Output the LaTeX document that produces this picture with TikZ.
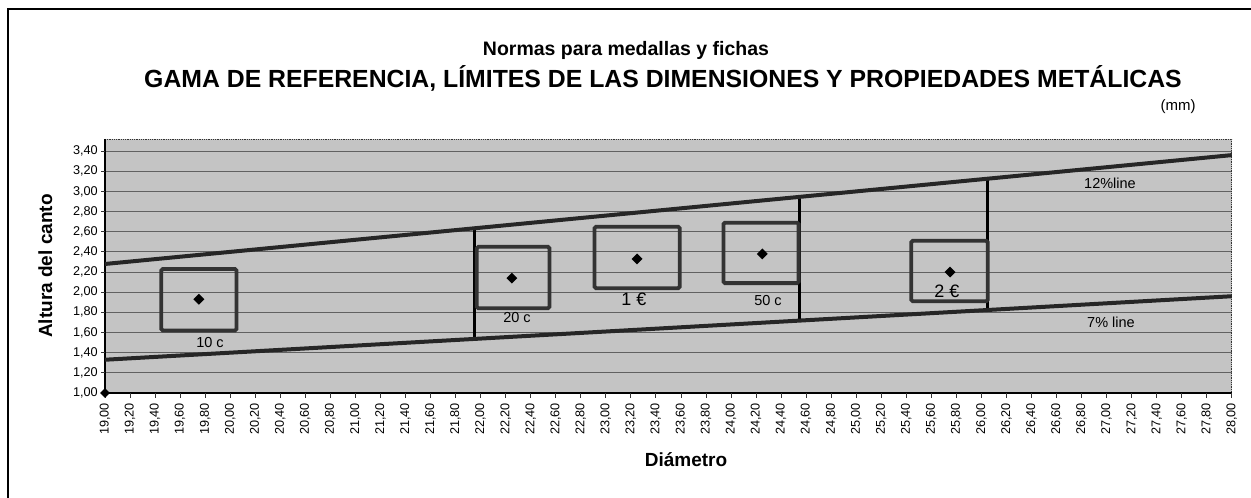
\documentclass[tikz,border=0pt]{standalone}
\usepackage{fontspec}
\setmainfont{Liberation Sans}
\usetikzlibrary{shapes.geometric}
\pgfkeys{/pgf/number format/.cd,fixed,fixed zerofill,precision=2,use comma,assume math mode=true}
\begin{document}
\begin{tikzpicture}[x=1pt,y=-1pt,
  bgfill/.style={fill=black!23},
  gridln/.style={draw=black!62,line width=0.8pt},
  frameln/.style={draw=black!80,line width=0.8pt,densely dotted},
  axisln/.style={draw=black,line width=1.2pt},
  tickln/.style={draw=black!80,line width=0.8pt},
  limitln/.style={draw=black!85,line width=4pt},
  vline/.style={draw=black,line width=3pt},
  coinbox/.style={draw=black!80,line width=3.8pt,rounded corners=1.5pt},
  coinmark/.style={diamond,fill=black,inner sep=0pt,minimum size=11pt},
  ticklbl/.style={inner sep=0pt,font=\fontsize{12.7}{13}\selectfont},
  coinlbl/.style={inner sep=0pt,font=\fontsize{14.5}{15}\selectfont},
  biglbl/.style={inner sep=0pt,font=\fontsize{18}{18}\selectfont},
  axtitle/.style={inner sep=0pt,font=\bfseries\fontsize{19}{19}\selectfont}]
\useasboundingbox (0,0) rectangle (1251,498);
\fill[white] (0,0) rectangle (1251,498);
% outer frame
\draw[line width=1.3pt] (8,498) -- (8,9) -- (1251,9);
% titles
\node[inner sep=0pt,anchor=base,font=\bfseries\fontsize{19.5}{20}\selectfont] (t1) at (626,55) {Normas para medallas y fichas};
\node[inner sep=0pt,anchor=base,font=\bfseries\fontsize{24.8}{25}\selectfont] (t2) at (663,87) {GAMA DE REFERENCIA, LÍMITES DE LAS DIMENSIONES Y PROPIEDADES METÁLICAS};
\node[inner sep=0pt,anchor=base,font=\fontsize{15}{15}\selectfont] (mm) at (1178,110) {(mm)};
% data scope: x = diameter, y = height
\begin{scope}[shift={(-2273.8pt,-493.8pt)},x=125.2pt,y=100.8pt]
  \fill[bgfill] (19,1) rectangle (28,3.52);
  \foreach \i in {1,...,12} \draw[gridln] (19,{1+0.2*\i}) -- (28,{1+0.2*\i});
  \draw[frameln] (19,3.52) -- (28,3.52) -- (28,1);
  \draw[axisln] (19,3.52) -- (19,1) -- (28,1);
  % y ticks and labels
  \foreach \i [evaluate=\i as \h using 1+0.2*\i] in {0,...,12} {
    \draw[tickln] (19,\h) -- ++(-4pt,0);
    \node[ticklbl,anchor=east] (yl\i) at ([xshift=-7pt]19,\h)
      {\pgfmathprintnumber{\h}};
  }
  % x ticks and labels
  \foreach \i [evaluate=\i as \d using 19+0.2*\i] in {0,...,45} {
    \draw[tickln] (\d,1) -- ++(0,-5pt);
    \node[ticklbl,rotate=90,anchor=east] (xl\i) at ([yshift=-10pt]\d,1)
      {\pgfmathprintnumber{\d}};
  }
  % limit lines
  \coordinate (u0) at (19,2.28);  \coordinate (u1) at (28,3.36);
  \coordinate (l0) at (19,1.33);  \coordinate (l1) at (28,1.96);
  \coordinate (va1) at (21.95,2.634); \coordinate (vb1) at (21.95,1.5365);
  \coordinate (va2) at (24.55,2.946); \coordinate (vb2) at (24.55,1.7185);
  \coordinate (va3) at (26.05,3.126); \coordinate (vb3) at (26.05,1.8235);
  \draw[vline] (va1) -- (vb1);
  \draw[vline] (va2) -- (vb2);
  \draw[vline] (va3) -- (vb3);
  \draw[limitln] (u0) -- (u1);
  \draw[limitln] (l0) -- (l1);
  % coin boxes
  \draw[coinbox] (19.45,1.62) rectangle (20.05,2.23);
  \draw[coinbox] (21.97,1.84) rectangle (22.55,2.45);
  \draw[coinbox] (22.91,2.04) rectangle (23.59,2.65);
  \draw[coinbox] (23.94,2.09) rectangle (24.54,2.69);
  \draw[coinbox] (25.44,1.91) rectangle (26.05,2.51);
  % coin marks
  \node[coinmark] (c10) at (19.75,1.93) {};
  \node[coinmark] (c20) at (22.25,2.14) {};
  \node[coinmark] (c100) at (23.25,2.33) {};
  \node[coinmark] (c50) at (24.25,2.38) {};
  \node[coinmark] (c200) at (25.75,2.20) {};
  \node[coinmark,minimum size=10pt] (orig) at (19,1) {};
\end{scope}
% labels
\node[coinlbl] (n10) at (210,343) {10 c};
\node[coinlbl] (n20) at (517,318) {20 c};
\node[biglbl] (n100) at (634,299) {1 €};
\node[coinlbl] (n50) at (768,301) {50 c};
\node[biglbl] (n200) at (947,291) {2 €};
\node[coinlbl] (p12) at (1110,183) {12\%line};
\node[coinlbl] (p7) at (1111,322) {7\% line};
% axis titles
\node[axtitle,rotate=90,anchor=base] (ytitle) at (52,266) {Altura del canto};
\node[axtitle,anchor=base] (xtitle) at (686,466) {Diámetro};
\end{tikzpicture}
\end{document}
